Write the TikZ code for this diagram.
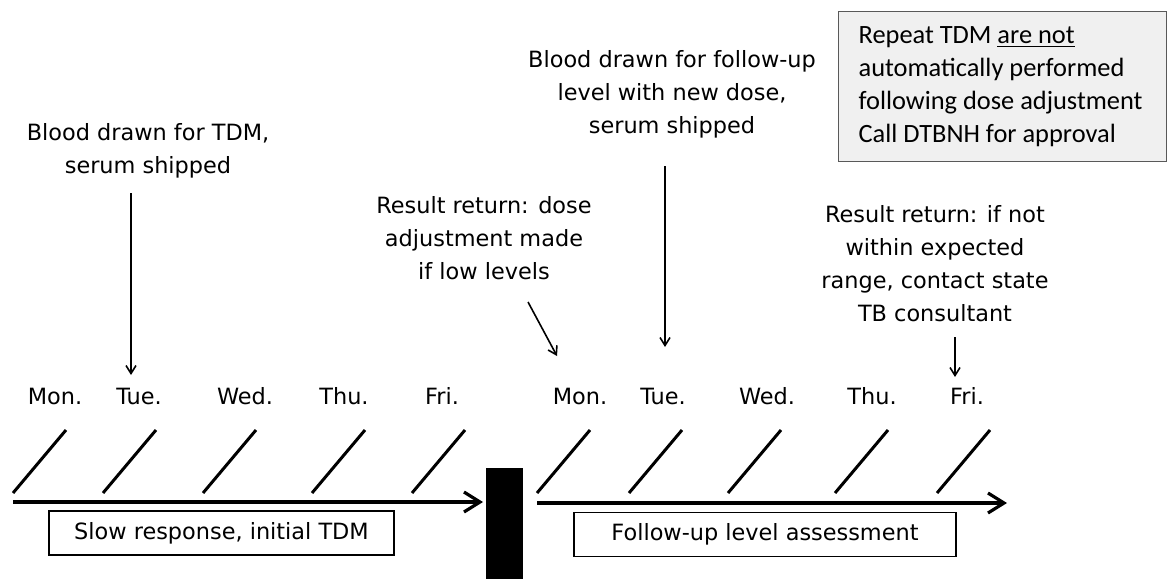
\documentclass[tikz,border=0pt]{standalone}
\usepackage{fontspec}
\setmainfont{DejaVu Sans}
\newfontfamily\calibrifont{Carlito}
\usetikzlibrary{arrows.meta,positioning}

\begin{document}
\begin{tikzpicture}[x=0.5pt,y=-0.5pt,
remark/.style={align=center, inner sep=0pt, font=\fontsize{11.2}{16.5}\selectfont},
dayname/.style={anchor=base, inner sep=0pt, font=\fontsize{11.2}{16.5}\selectfont},
phasebox/.style={draw, line width=0.8pt, minimum height=22pt, inner sep=0pt, font=\fontsize{11.2}{16.5}\selectfont},
infobox/.style={draw=black!65, fill=black!6, line width=0.6pt, align=flush left, text width=150pt, inner xsep=7pt, minimum width=164pt, minimum height=75pt, font=\calibrifont\fontsize{13.2}{16.4}\selectfont},
axis/.style={line width=1.6pt, -{Straight Barb[length=8pt,width=10pt]}},
pointer/.style={line width=0.8pt, -{Straight Barb[length=4pt,width=5pt]}},
daytick/.style={line width=1.5pt}
]
\useasboundingbox (0,0) rectangle (1170,579);
\fill[white] (0,0) rectangle (1170,579);

% notes over the days
\node[remark, anchor=north] (draw1) at (148,123) {Blood drawn for TDM,\\serum shipped};
\node[remark, anchor=north] (result1) at (484,196) {Result return: dose\\adjustment made\\if low levels};
\node[remark, anchor=north] (draw2) at (672,50) {Blood drawn for follow-up\\level with new dose,\\serum shipped};
\node[remark, anchor=north] (result2) at (935,205) {Result return: if not\\within expected\\range, contact state\\TB consultant};
\node[infobox, anchor=north west] (notice) at (838,11) {\hspace*{3pt}Repeat TDM \underline{are not}\\\hspace*{3pt}automatically performed\\\hspace*{3pt}following dose adjustment\\\hspace*{3pt}Call DTBNH for approval};

% days of the two weeks
\foreach \d/\x/\n in {Mon./55/mon1, Tue./139/tue1, Wed./245/wed1, Thu./344/thu1, Fri./442/fri1,
                      Mon./580/mon2, Tue./663/tue2, Wed./767/wed2, Thu./872/thu2, Fri./967/fri2}
  \node[dayname] (\n) at (\x,404) {\d};

\foreach \x in {13,103,203,312,412,537,629,728,835,937}
  \draw[daytick] (\x,493) -- ++(53,-63);

% time lines
\coordinate (start1) at (13,502);
\coordinate (end1) at (483,502);
\coordinate (start2) at (537,503);
\coordinate (end2) at (1007,503);
\draw[axis] (start1) -- (end1);
\draw[axis] (start2) -- (end2);

\node[phasebox, minimum width=172.5pt] (phase1) at (221.5,533) {Slow response, initial TDM};
\node[phasebox, minimum width=191pt] (phase2) at (765,534.5) {Follow-up level assessment};
\node[fill=black, inner sep=0pt, minimum width=18.5pt, minimum height=55.5pt, anchor=north west] (gap) at (486,468) {};

% pointers
\coordinate (tip1) at (131,375);
\coordinate (tail2) at (528,302);
\coordinate (tip2) at (557,356);
\coordinate (tip3) at (665,347);
\coordinate (tip4) at (955,377);
\draw[pointer, shorten <=7.5pt] (draw1.south -| tip1) -- (tip1);
\draw[pointer] (tail2) -- (tip2);
\draw[pointer, shorten <=14pt] (draw2.south -| tip3) -- (tip3);
\draw[pointer, shorten <=7.5pt] (result2.south -| tip4) -- (tip4);
\end{tikzpicture}
\end{document}
